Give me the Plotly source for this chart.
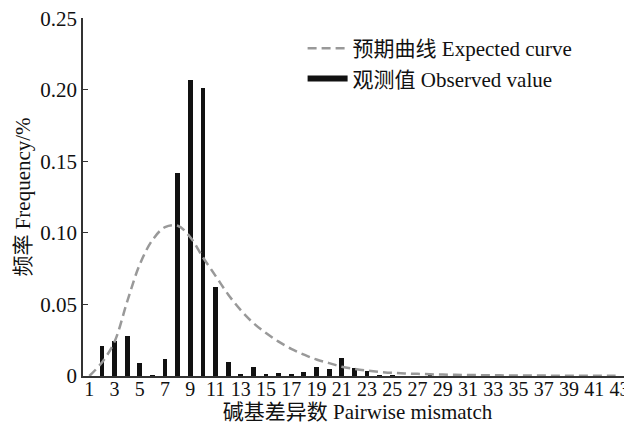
import plotly.graph_objects as go

# Data
mismatch = list(range(1, 44))
observed = [0.0, 0.021, 0.0244, 0.028, 0.0093, 0.0005, 0.0117, 0.142, 0.207, 0.201,
            0.062, 0.0097, 0.0012, 0.006, 0.0012, 0.0022, 0.0008, 0.0029, 0.006, 0.0047,
            0.0127, 0.0057, 0.0037, 0.0004, 0.0002, 0.0, 0.0, 0.0002, 0.0, 0.0,
            0.0, 0.0, 0.0, 0.0, 0.0, 0.0, 0.0, 0.0, 0.0, 0.0, 0.0, 0.0, 0.0]
expected = [0.0, 0.0095, 0.024, 0.052, 0.078, 0.095, 0.104, 0.105, 0.097, 0.083,
            0.070, 0.057, 0.046, 0.037, 0.030, 0.024, 0.019, 0.015, 0.0115, 0.009,
            0.0065, 0.005, 0.0038, 0.0029, 0.0022, 0.0018, 0.0015, 0.0012, 0.001, 0.0008,
            0.0007, 0.0006, 0.0005, 0.0004, 0.0004, 0.0003, 0.0003, 0.0002, 0.0002, 0.0002,
            0.0001, 0.0001, 0.0001]
x_ticks = list(range(1, 44, 2))
y_ticks = [0, 0.05, 0.10, 0.15, 0.20, 0.25]
y_tick_labels = ["0", "0.05", "0.10", "0.15", "0.20", "0.25"]

FONT = "Liberation Serif, Times New Roman, Noto Sans CJK SC, serif"

fig = go.Figure()
fig.add_trace(go.Bar(x=mismatch, y=observed, width=0.38, marker=dict(color="#111111", line=dict(width=0)),
                     showlegend=False, name="观测值 Observed value"))
fig.add_trace(go.Scatter(x=mismatch, y=expected, mode="lines",
                         line=dict(color="#999999", width=2.5, dash="9px,5px", shape="spline"),
                         name="预期曲线 Expected curve"))
fig.add_trace(go.Scatter(x=[None], y=[None], mode="lines", line=dict(color="#111111", width=6),
                         name="观测值 Observed value"))

# page body has an 8px margin: shrink the figure so it fits the 632x427 window
fig.update_layout(
    width=624, height=419,
    margin=dict(l=75, r=0, t=10, b=51),
    paper_bgcolor="white", plot_bgcolor="white",
    font=dict(family=FONT, size=21, color="#111111"),
    showlegend=True,
    legend=dict(x=0.40, y=0.972, xanchor="left", yanchor="top", bgcolor="rgba(0,0,0,0)",
                font=dict(family=FONT, size=21), tracegroupgap=0, itemwidth=40),
    bargap=0,
)
fig.update_xaxes(range=[0.5, 44], tickmode="array", tickvals=x_ticks, ticktext=[str(v) for v in x_ticks],
                 showline=True, linecolor="#333333", linewidth=1.5, showgrid=False, zeroline=False,
                 ticks="", ticklen=0, tickangle=0, automargin=False, ticklabelstandoff=-6,
                 tickfont=dict(family=FONT, size=20),
                 title=dict(text="碱基差异数 Pairwise mismatch", font=dict(family=FONT, size=21), standoff=2))
fig.update_yaxes(range=[0, 0.2502], tickmode="array", tickvals=y_ticks, ticktext=y_tick_labels,
                 showline=True, linecolor="#333333", linewidth=1.5, showgrid=False, zeroline=False,
                 ticks="inside", ticklen=5, tickcolor="#333333", automargin=False,
                 ticklabeloverflow="allow",
                 tickfont=dict(family=FONT, size=21),
                 title=dict(text="频率 Frequency/%", font=dict(family=FONT, size=21), standoff=4))

fig.write_html("out.html")
